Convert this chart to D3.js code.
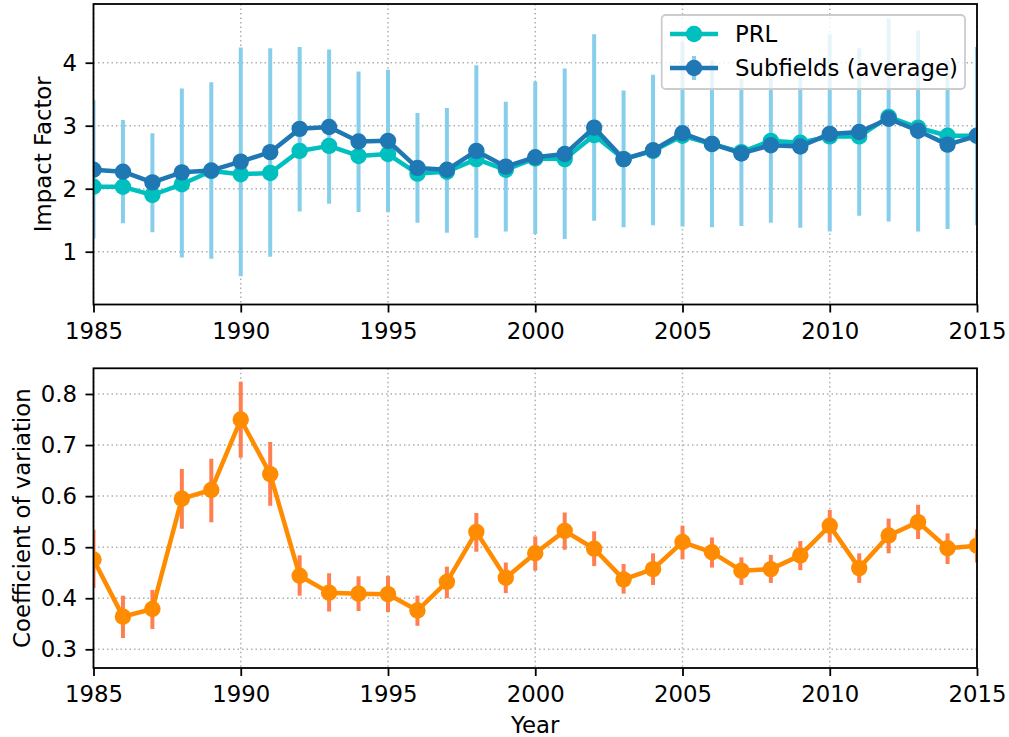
<!DOCTYPE html>
<html>
<head>
<meta charset="utf-8">
<script src="https://cdn.jsdelivr.net/npm/d3@7"></script>
<style>
body { margin: 0; background: #fff; }
svg { display: block; font-family: "DejaVu Sans", sans-serif; }
</style>
</head>
<body>
<svg id="chart" width="1009" height="737"></svg>
<script>
const years = d3.range(1985, 2016);

const prl = [2.03, 2.03, 1.90, 2.07, 2.28, 2.23, 2.25, 2.60, 2.68, 2.52, 2.55,
  2.24, 2.27, 2.47, 2.30, 2.48, 2.47, 2.85, 2.47, 2.60, 2.84, 2.71, 2.58, 2.76,
  2.73, 2.83, 2.83, 3.14, 2.97, 2.84, 2.84];
const subfields = [2.30, 2.27, 2.10, 2.26, 2.29, 2.43, 2.58, 2.95, 2.98, 2.75, 2.76,
  2.33, 2.30, 2.60, 2.35, 2.50, 2.55, 2.97, 2.47, 2.61, 2.88, 2.71, 2.56, 2.69,
  2.67, 2.87, 2.90, 3.11, 2.92, 2.70, 2.84];
const subLow = [1.21, 1.45, 1.31, 0.91, 0.89, 0.61, 0.92, 1.64, 1.76, 1.63, 1.63,
  1.46, 1.30, 1.22, 1.32, 1.28, 1.20, 1.49, 1.39, 1.42, 1.40, 1.39, 1.41, 1.46,
  1.38, 1.32, 1.57, 1.48, 1.32, 1.36, 1.42];
const subHigh = [3.41, 3.09, 2.88, 3.59, 3.69, 4.24, 4.23, 4.25, 4.21, 3.86, 3.89,
  3.20, 3.28, 3.96, 3.38, 3.70, 3.91, 4.45, 3.56, 3.81, 4.33, 4.04, 3.74, 3.86,
  3.80, 4.45, 4.23, 4.70, 4.51, 4.04, 4.25];

const cov = [0.476, 0.364, 0.379, 0.595, 0.612, 0.750, 0.643, 0.444, 0.411, 0.409, 0.408,
  0.376, 0.432, 0.530, 0.440, 0.488, 0.532, 0.497, 0.437, 0.457, 0.510, 0.490, 0.454,
  0.457, 0.484, 0.542, 0.459, 0.523, 0.549, 0.498, 0.503];
const covLow = [0.420, 0.322, 0.340, 0.536, 0.549, 0.675, 0.581, 0.405, 0.374, 0.375, 0.373,
  0.346, 0.400, 0.491, 0.410, 0.454, 0.495, 0.463, 0.409, 0.426, 0.476, 0.460, 0.426,
  0.430, 0.455, 0.509, 0.430, 0.488, 0.516, 0.467, 0.470];
const covHigh = [0.534, 0.405, 0.416, 0.653, 0.673, 0.824, 0.706, 0.484, 0.449, 0.443, 0.444,
  0.405, 0.462, 0.567, 0.470, 0.521, 0.568, 0.531, 0.467, 0.488, 0.542, 0.519, 0.480,
  0.485, 0.512, 0.573, 0.488, 0.556, 0.583, 0.527, 0.535];

const xTicks = [1985, 1990, 1995, 2000, 2005, 2010, 2015];
const yTicksTop = [1, 2, 3, 4];
const yTicksBottom = [0.3, 0.4, 0.5, 0.6, 0.7, 0.8];
const legendLabels = ["PRL", "Subfields (average)"];

const FS = 22.8;
const svg = d3.select("#chart");
const L = 93.5, R = 977;
const x = d3.scaleLinear().domain([1985, 2015]).range([L, R]);

function panel(id, top, bottom, domain, yTicks, fmt) {
  const y = d3.scaleLinear().domain(domain).range([bottom, top]);
  const g = svg.append("g");
  g.append("clipPath").attr("id", id).append("rect")
    .attr("x", L).attr("y", top).attr("width", R - L).attr("height", bottom - top);
  const grid = g.append("g").attr("stroke", "#b0b0b0").attr("stroke-width", 1.5)
    .attr("stroke-dasharray", "1.5,3");
  grid.selectAll(".gx").data(xTicks).join("line")
    .attr("x1", d => x(d)).attr("x2", d => x(d)).attr("y1", top).attr("y2", bottom);
  grid.selectAll(".gy").data(yTicks).join("line")
    .attr("x1", L).attr("x2", R).attr("y1", d => y(d)).attr("y2", d => y(d));
  const plot = g.append("g").attr("clip-path", `url(#${id})`);
  const ax = g.append("g").attr("transform", `translate(0,${bottom})`)
    .call(d3.axisBottom(x).tickValues(xTicks).tickFormat(d3.format("d")).tickSize(8).tickPadding(10));
  const ay = g.append("g").attr("transform", `translate(${L},0)`)
    .call(d3.axisLeft(y).tickValues(yTicks).tickFormat(fmt).tickSize(8).tickPadding(8.5));
  [ax, ay].forEach(a => {
    a.select(".domain").remove();
    a.selectAll("line").attr("stroke", "#000").attr("stroke-width", 1.8);
    a.selectAll("text").attr("font-size", FS).attr("font-family", "DejaVu Sans").attr("fill", "#000");
  });
  g.append("rect").attr("x", L).attr("y", top).attr("width", R - L).attr("height", bottom - top)
    .attr("fill", "none").attr("stroke", "#000").attr("stroke-width", 1.8);
  return { y, plot, g };
}

const P1 = panel("clipTop", 4, 304.5, [0.162, 4.932], yTicksTop, d3.format("d"));
P1.plot.selectAll(".eb").data(years).join("line")
  .attr("x1", (d) => x(d)).attr("x2", (d) => x(d))
  .attr("y1", (d, i) => P1.y(subLow[i])).attr("y2", (d, i) => P1.y(subHigh[i]))
  .attr("stroke", "#87CEEB").attr("stroke-width", 4);
function series(p, vals, color) {
  const line = d3.line().x((d, i) => x(years[i])).y(d => p.y(d));
  p.plot.append("path").datum(vals).attr("d", line).attr("fill", "none")
    .attr("stroke", color).attr("stroke-width", 4.5).attr("stroke-linejoin", "round");
  p.plot.append("g").selectAll("circle").data(vals).join("circle")
    .attr("cx", (d, i) => x(years[i])).attr("cy", d => p.y(d)).attr("r", 8.2).attr("fill", color);
}
series(P1, prl, "#00BFBF");
series(P1, subfields, "#1f77b4");

const lg = svg.append("g");
lg.append("rect").attr("x", 661.7).attr("y", 15).attr("width", 303.3).attr("height", 74)
  .attr("rx", 4).attr("fill", "#fff").attr("fill-opacity", 0.8)
  .attr("stroke", "#cccccc").attr("stroke-width", 1.8);
const legendColors = ["#00BFBF", "#1f77b4"];
legendLabels.forEach((lab, i) => {
  const cy = 34 + i * 34;
  if (i === 1) {
    lg.append("line").attr("x1", 694).attr("x2", 694).attr("y1", cy - 12).attr("y2", cy + 12)
      .attr("stroke", "#87CEEB").attr("stroke-width", 4);
  }
  lg.append("line").attr("x1", 670).attr("x2", 718).attr("y1", cy).attr("y2", cy)
    .attr("stroke", legendColors[i]).attr("stroke-width", 4.5);
  lg.append("circle").attr("cx", 694).attr("cy", cy).attr("r", 8.2).attr("fill", legendColors[i]);
  lg.append("text").attr("x", 735).attr("y", cy + 8).attr("font-size", FS).attr("fill", "#000").text(lab);
});

svg.append("text").attr("transform", `translate(51,${(4 + 304.5) / 2}) rotate(-90)`)
  .attr("text-anchor", "middle").attr("font-size", FS).attr("fill", "#000").text("Impact Factor");

const P2 = panel("clipBot", 368.3, 668, [0.2634, 0.8503], yTicksBottom, d3.format(".1f"));
P2.plot.selectAll(".eb").data(years).join("line")
  .attr("x1", (d) => x(d)).attr("x2", (d) => x(d))
  .attr("y1", (d, i) => P2.y(covLow[i])).attr("y2", (d, i) => P2.y(covHigh[i]))
  .attr("stroke", "#FF7F50").attr("stroke-width", 4);
series(P2, cov, "#FF8C00");

svg.append("text").attr("transform", `translate(30,${(368.3 + 668) / 2}) rotate(-90)`)
  .attr("text-anchor", "middle").attr("font-size", FS).attr("fill", "#000").text("Coefficient of variation");
svg.append("text").attr("x", (L + R) / 2).attr("y", 733).attr("text-anchor", "middle")
  .attr("font-size", FS).attr("fill", "#000").text("Year");
</script>
</body>
</html>
